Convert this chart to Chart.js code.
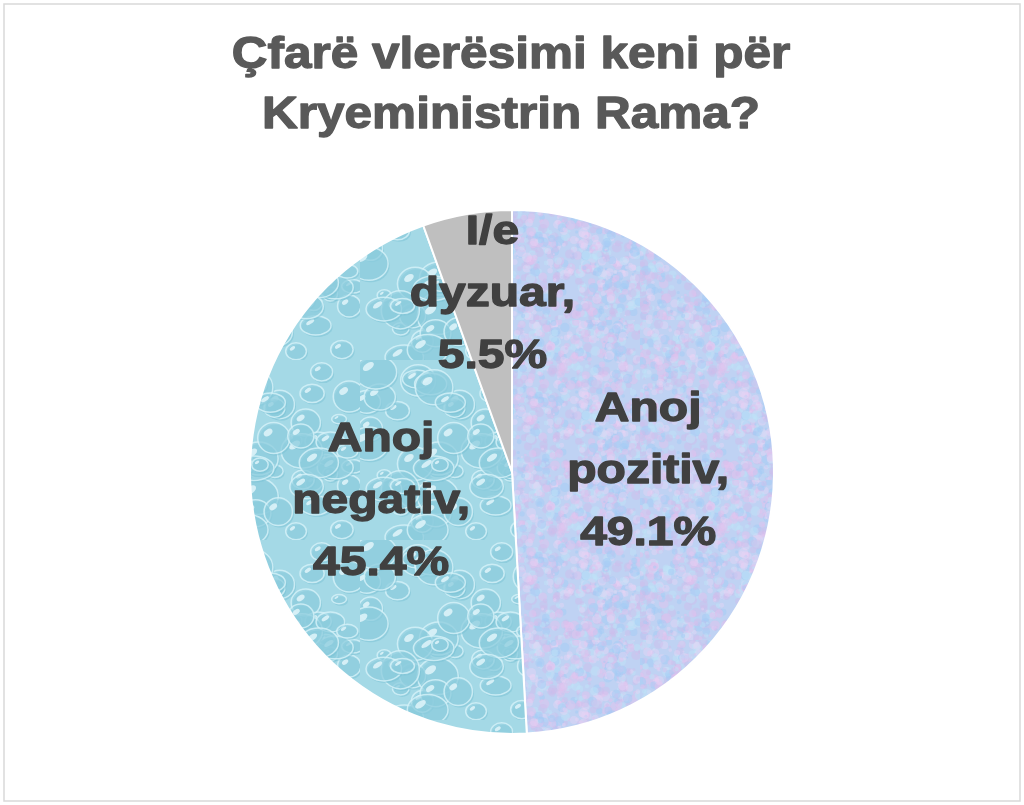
<!DOCTYPE html>
<html lang="sq">
<head>
<meta charset="utf-8">
<title>Vlerësimi për Kryeministrin Rama</title>
<script src="https://cdn.jsdelivr.net/npm/chart.js@4.4.1/dist/chart.umd.min.js"></script>
<style>
  html, body { margin: 0; padding: 0; background: #ffffff; overflow: hidden; }
  #wrap { width: 1024px; height: 805px; position: relative; }
</style>
</head>
<body>
<div id="wrap"><canvas id="grafiku"></canvas></div>
<script>
const categories = ["Anoj pozitiv", "Anoj negativ", "I/e dyzuar"];
const values = [49.1, 45.4, 5.5];
const valueLabels = ["49.1%", "45.4%", "5.5%"];
const labelLines = [["Anoj", "pozitiv,"], ["Anoj", "negativ,"], ["I/e", "dyzuar,"]];
const titleLines = ["Çfarë vlerësimi keni për", "Kryeministrin Rama?"];

// small seeded generator so the textures come out the same every time
let seed = 12345;
function rnd() {
  seed = (seed * 1103515245 + 12345) % 2147483648;
  return seed / 2147483648;
}

function mottledPattern() {
  const c = document.createElement("canvas");
  c.width = 160; c.height = 160;
  const g = c.getContext("2d");
  g.fillStyle = "#bfd2f3";
  g.fillRect(0, 0, 160, 160);
  const tints = ["rgba(226,194,238,0.5)", "rgba(164,204,245,0.5)", "rgba(190,228,248,0.45)",
                 "rgba(206,188,236,0.45)", "rgba(236,212,244,0.4)"];
  for (let i = 0; i < 1100; i++) {
    g.fillStyle = tints[Math.floor(rnd() * tints.length)];
    g.beginPath();
    g.arc(rnd() * 160, rnd() * 160, 1 + rnd() * 4, 0, Math.PI * 2);
    g.fill();
  }
  return g.createPattern(c, "repeat");
}

function dropsPattern() {
  const c = document.createElement("canvas");
  c.width = 180; c.height = 180;
  const g = c.getContext("2d");
  g.fillStyle = "#a4d9e6";
  g.fillRect(0, 0, 180, 180);
  for (let i = 0; i < 55; i++) {
    const x = rnd() * 180, y = rnd() * 180;
    const rx = 7 + rnd() * 14, ry = rx * (0.6 + rnd() * 0.4);
    g.fillStyle = "rgba(118,190,210,0.45)";
    g.beginPath(); g.ellipse(x + 1.5, y + 2, rx, ry, 0, 0, Math.PI * 2); g.fill();
    g.strokeStyle = "rgba(215,243,249,0.8)";
    g.lineWidth = 1.5;
    g.fillStyle = "rgba(150,210,226,0.5)";
    g.beginPath(); g.ellipse(x, y, rx, ry, 0, 0, Math.PI * 2); g.fill(); g.stroke();
    g.fillStyle = "rgba(235,250,253,0.75)";
    g.beginPath(); g.ellipse(x - rx * 0.35, y - ry * 0.35, rx * 0.3, ry * 0.2, -0.6, 0, Math.PI * 2); g.fill();
  }
  return g.createPattern(c, "repeat");
}

const sliceColors = [mottledPattern(), dropsPattern(), "#bfbfbf"];

// Excel's bold text here is wider and heavier than plain Arial bold
function wideText(ctx, text, x, y, sx, heavy) {
  ctx.save();
  ctx.translate(x, y);
  ctx.scale(sx, 1);
  ctx.lineWidth = heavy;
  ctx.lineJoin = "round";
  ctx.strokeText(text, 0, 0);
  ctx.fillText(text, 0, 0);
  ctx.restore();
}

const frame = {
  id: "frame",
  beforeDraw(chart) {
    const ctx = chart.ctx;
    ctx.save();
    ctx.fillStyle = "#ffffff";
    ctx.fillRect(0, 0, chart.width, chart.height);
    ctx.strokeStyle = "#d9d9d9";
    ctx.lineWidth = 1.5;
    ctx.strokeRect(4, 4, chart.width - 8, chart.height - 8);
    ctx.font = "bold 45px 'Liberation Sans'";
    ctx.fillStyle = "#595959";
    ctx.strokeStyle = "#595959";
    ctx.textAlign = "center";
    ctx.textBaseline = "alphabetic";
    titleLines.forEach((t, k) => wideText(ctx, t, 511, 68 + k * 60, 1.1, 1.3));
    ctx.restore();
  }
};

const sliceLabels = {
  id: "sliceLabels",
  afterDatasetsDraw(chart, args, opts) {
    const ctx = chart.ctx;
    const arcs = chart.getDatasetMeta(0).data;
    ctx.save();
    ctx.font = "bold 40px 'Liberation Sans'";
    ctx.fillStyle = "#404040";
    ctx.strokeStyle = "#404040";
    ctx.textAlign = "center";
    ctx.textBaseline = "alphabetic";
    arcs.forEach((arc, i) => {
      const mid = (arc.startAngle + arc.endAngle) / 2;
      const r = arc.outerRadius * opts.radius[i];
      const cx = arc.x + Math.cos(mid) * r + opts.shiftX[i];
      const cy = arc.y + Math.sin(mid) * r;
      const lines = labelLines[i].concat([valueLabels[i]]);
      lines.forEach((t, k) => wideText(ctx, t, cx, cy + 14.5 + (k - 1) * 62, 1.2, 1.3));
    });
    ctx.restore();
  }
};

new Chart(document.getElementById("grafiku"), {
  type: "pie",
  data: {
    labels: categories,
    datasets: [{
      data: values,
      backgroundColor: sliceColors,
      borderColor: "#ffffff",
      borderWidth: 2
    }]
  },
  options: {
    responsive: true,
    maintainAspectRatio: false,
    animation: false,
    events: [],
    layout: { padding: { top: 209, bottom: 70 } },
    plugins: {
      legend: { display: false },
      tooltip: { enabled: false },
      title: { display: false },
      sliceLabels: { radius: [0.52, 0.51, 0.70], shiftX: [0, 0, 12] }
    }
  },
  plugins: [frame, sliceLabels]
});
</script>
</body>
</html>
